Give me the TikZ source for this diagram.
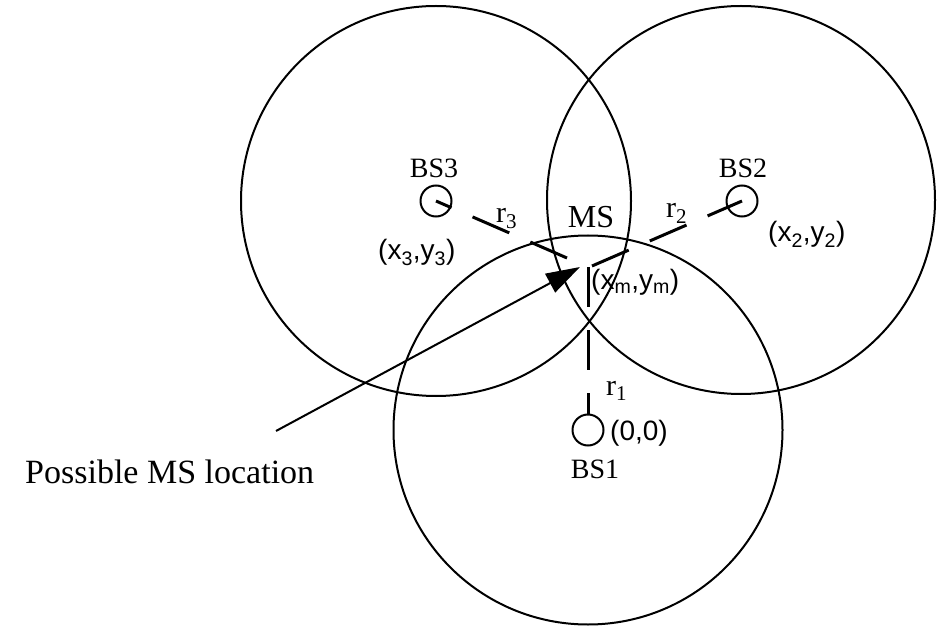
\documentclass[tikz,border=0pt]{standalone}
\usepackage{fontspec}
\setmainfont{Liberation Serif}
\newfontfamily\arialf{Liberation Sans}
\usetikzlibrary{arrows.meta}
\begin{document}
\begin{tikzpicture}[x=1pt,y=-1pt,
  big/.style={line width=2pt},
  bsnode/.style={circle,draw,line width=2pt,minimum size=31pt,inner sep=0pt},
  rline/.style={line width=3pt,dash pattern=on 40pt off 23pt},
  arrowline/.style={line width=2pt,-{Triangle[length=34pt,width=21pt]}},
  serlbl/.style={inner sep=0pt,font=\fontsize{28}{30}\selectfont},
  mslbl/.style={inner sep=0pt,font=\fontsize{32}{34}\selectfont},
  rlbl/.style={inner sep=0pt,anchor=base west,font=\fontsize{30}{32}\selectfont},
  coordlbl/.style={inner sep=0pt,anchor=base west,font=\arialf\fontsize{28}{30}\selectfont},
  biglbl/.style={inner sep=0pt,anchor=base west,font=\fontsize{34}{36}\selectfont}]
\useasboundingbox (0,0) rectangle (937,628);
% coverage circles
\draw[big] (436,201) circle[radius=195pt];
\draw[big] (741,200) circle[radius=194pt];
\draw[big] (588,430) circle[radius=194.5pt];
% base stations
\node[bsnode] (bs3) at (436,201) {};
\node[bsnode] (bs2) at (742,201) {};
\node[bsnode] (bs1) at (588,430) {};
% MS ends of radius lines
\coordinate (e3) at (567,258);
\coordinate (e2) at (592,266);
\coordinate (e1) at (588,267);
\draw[rline] (e3) -- (bs3.center);
\draw[rline] (e2) -- (bs2.center);
\draw[rline] (e1) -- (bs1.north);
% labels
\node[serlbl,anchor=base] (t3) at (434,178) {BS3};
\node[serlbl,anchor=base] (t2) at (743,178) {BS2};
\node[serlbl,anchor=base] (t1) at (595,478) {BS1};
\node[mslbl,anchor=base] (tms) at (591,228) {MS};
\node[rlbl] (lr3) at (496,223) {r\textsubscript{3}};
\node[rlbl] (lr2) at (666,218) {r\textsubscript{2}};
\node[rlbl] (lr1) at (606,395) {r\textsubscript{1}};
\node[coordlbl] (c3) at (378,260) {(x\textsubscript{3},y\textsubscript{3})};
\node[coordlbl] (c2) at (768,242) {(x\textsubscript{2},y\textsubscript{2})};
\node[coordlbl] (cm) at (591,290) {(x\textsubscript{m},y\textsubscript{m})};
\node[coordlbl] (c1) at (610,440) {(0,0)};
% possible location
\node[biglbl] (loc) at (25,483) {Possible MS location};
\coordinate (tail) at (276,431);
\coordinate (tip) at (580,267);
\draw[arrowline] (tail) -- (tip);
\end{tikzpicture}
\end{document}
